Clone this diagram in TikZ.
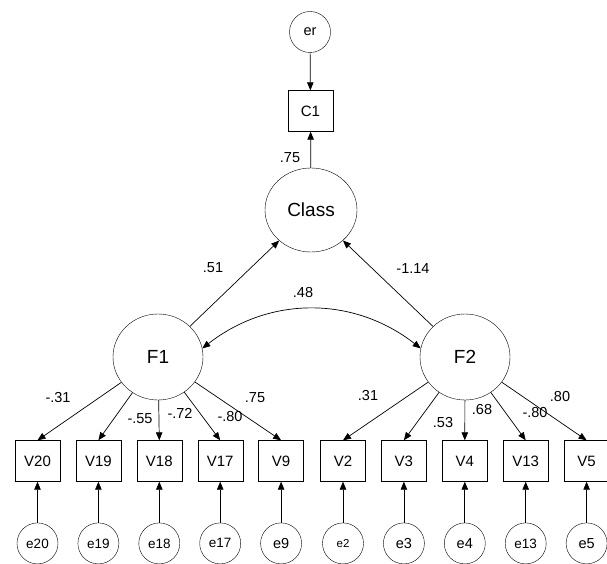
\documentclass[tikz,border=0pt]{standalone}
\usepackage{fontspec}
\setmainfont{Liberation Sans}
\usetikzlibrary{arrows.meta,positioning,shapes.geometric}
\tikzset{
    latent/.style = {
        draw, ellipse, inner sep=0pt,
        minimum width=90pt,
        minimum height=86pt,
        font=\fontsize{19}{21}\selectfont,
        },
    observed/.style = {
        draw, rectangle, inner sep=0pt,
        minimum width=45pt,
        minimum height=41pt,
        font=\fontsize{15}{17}\selectfont,
        },
    error/.style = {
        draw, circle, inner sep=0pt,
        minimum size=41pt,
        font=\fontsize{14.5}{16}\selectfont,
        },
    coef/.style = {
        inner sep=0pt,
        font=\fontsize{14.5}{16}\selectfont,
        },
    effect/.style = {
        draw, line width=0.7pt,
        -{Triangle[length=8pt,width=6.5pt]},
        },
    covar/.style = {
        draw, line width=0.7pt,
        {Triangle[length=8pt,width=6.5pt]}-{Triangle[length=8pt,width=6.5pt]},
        },
    small/.style = {
        font=\fontsize{13.5}{15}\selectfont,
        },
}

\begin{document}
\begin{tikzpicture}[x=1pt, y=-1pt]
            \useasboundingbox (0,0) rectangle (607,564);

            % structural part
            \node[error] (er) at (310,32) {er};
            \node[observed] (C1) at (310.5,111) {C1};
            \node[latent, minimum width=92pt, minimum height=84pt] (Class) at (311,210) {Class};
            \node[latent] (F1) at (158,357) {F1};
            \node[latent] (F2) at (465,357) {F2};

            % indicators of F1
            \node[observed] (V20) at (37.5,461) {V20};
            \node[observed, right=15.5pt of V20] (V19) {V19};
            \node[observed, right=15.5pt of V19] (V18) {V18};
            \node[observed, right=15.5pt of V18] (V17) {V17};
            \node[observed, right=15.5pt of V17] (V9) {V9};

            % indicators of F2
            \node[observed] (V2) at (343,461) {V2};
            \node[observed, right=15.5pt of V2] (V3) {V3};
            \node[observed, right=15.5pt of V3] (V4) {V4};
            \node[observed, right=15.5pt of V4] (V13) {V13};
            \node[observed, right=15.5pt of V13] (V5) {V5};

            % error terms
            \node[error, small, below=41pt of V20] (e20) {e20};
            \node[error, small, below=41pt of V19] (e19) {e19};
            \node[error, small, below=41pt of V18] (e18) {e18};
            \node[error, small, below=41pt of V17] (e17) {e17};
            \node[error, below=41pt of V9] (e9) {e9};
            \node[error, font=\fontsize{11.5}{13}\selectfont, below=41pt of V2] (e2) {e2};
            \node[error, below=41pt of V3] (e3) {e3};
            \node[error, below=41pt of V4] (e4) {e4};
            \node[error, small, below=41pt of V13] (e13) {e13};
            \node[error, below=41pt of V5] (e5) {e5};

            \path (er) edge[effect] (C1);
            \path (Class) edge[effect] (C1);
            \path (F1) edge[effect] (Class);
            \path (F2) edge[effect] (Class);
            \path (F1.11) edge[covar, bend left=38] (F2.169);

            \path (F1) edge[effect] (V20.north);
            \path (F1) edge[effect] (V19.north);
            \path (F1) edge[effect] (V18.north);
            \path (F1) edge[effect] (V17.north);
            \path (F1) edge[effect] (V9.north);
            \path (F2) edge[effect] (V2.north);
            \path (F2) edge[effect] (V3.north);
            \path (F2) edge[effect] (V4.north);
            \path (F2) edge[effect] (V13.north);
            \path (F2) edge[effect] (V5.north);

            \path (e20) edge[effect] (V20);
            \path (e19) edge[effect] (V19);
            \path (e18) edge[effect] (V18);
            \path (e17) edge[effect] (V17);
            \path (e9) edge[effect] (V9);
            \path (e2) edge[effect] (V2);
            \path (e3) edge[effect] (V3);
            \path (e4) edge[effect] (V4);
            \path (e13) edge[effect] (V13);
            \path (e5) edge[effect] (V5);

            % estimates
            \node[coef] (wC1) at (290,158) {.75};
            \node[coef] (wF1) at (213,268) {.51};
            \node[coef] (wF2) at (413,269) {-1.14};
            \node[coef] (cF) at (303,293) {.48};
            \node[coef] (w20) at (58,398) {-.31};
            \node[coef] (w18) at (140,419) {-.55};
            \node[coef] (w19) at (180,413) {-.72};
            \node[coef] (w17) at (230,417) {-.80};
            \node[coef] (w9) at (255,398) {.75};
            \node[coef] (w2) at (368,396) {.31};
            \node[coef] (w3) at (443,423) {.53};
            \node[coef] (w4) at (482,410) {.68};
            \node[coef] (w13) at (535,413) {-.80};
            \node[coef] (w5) at (560,397) {.80};
        \end{tikzpicture}
\end{document}
